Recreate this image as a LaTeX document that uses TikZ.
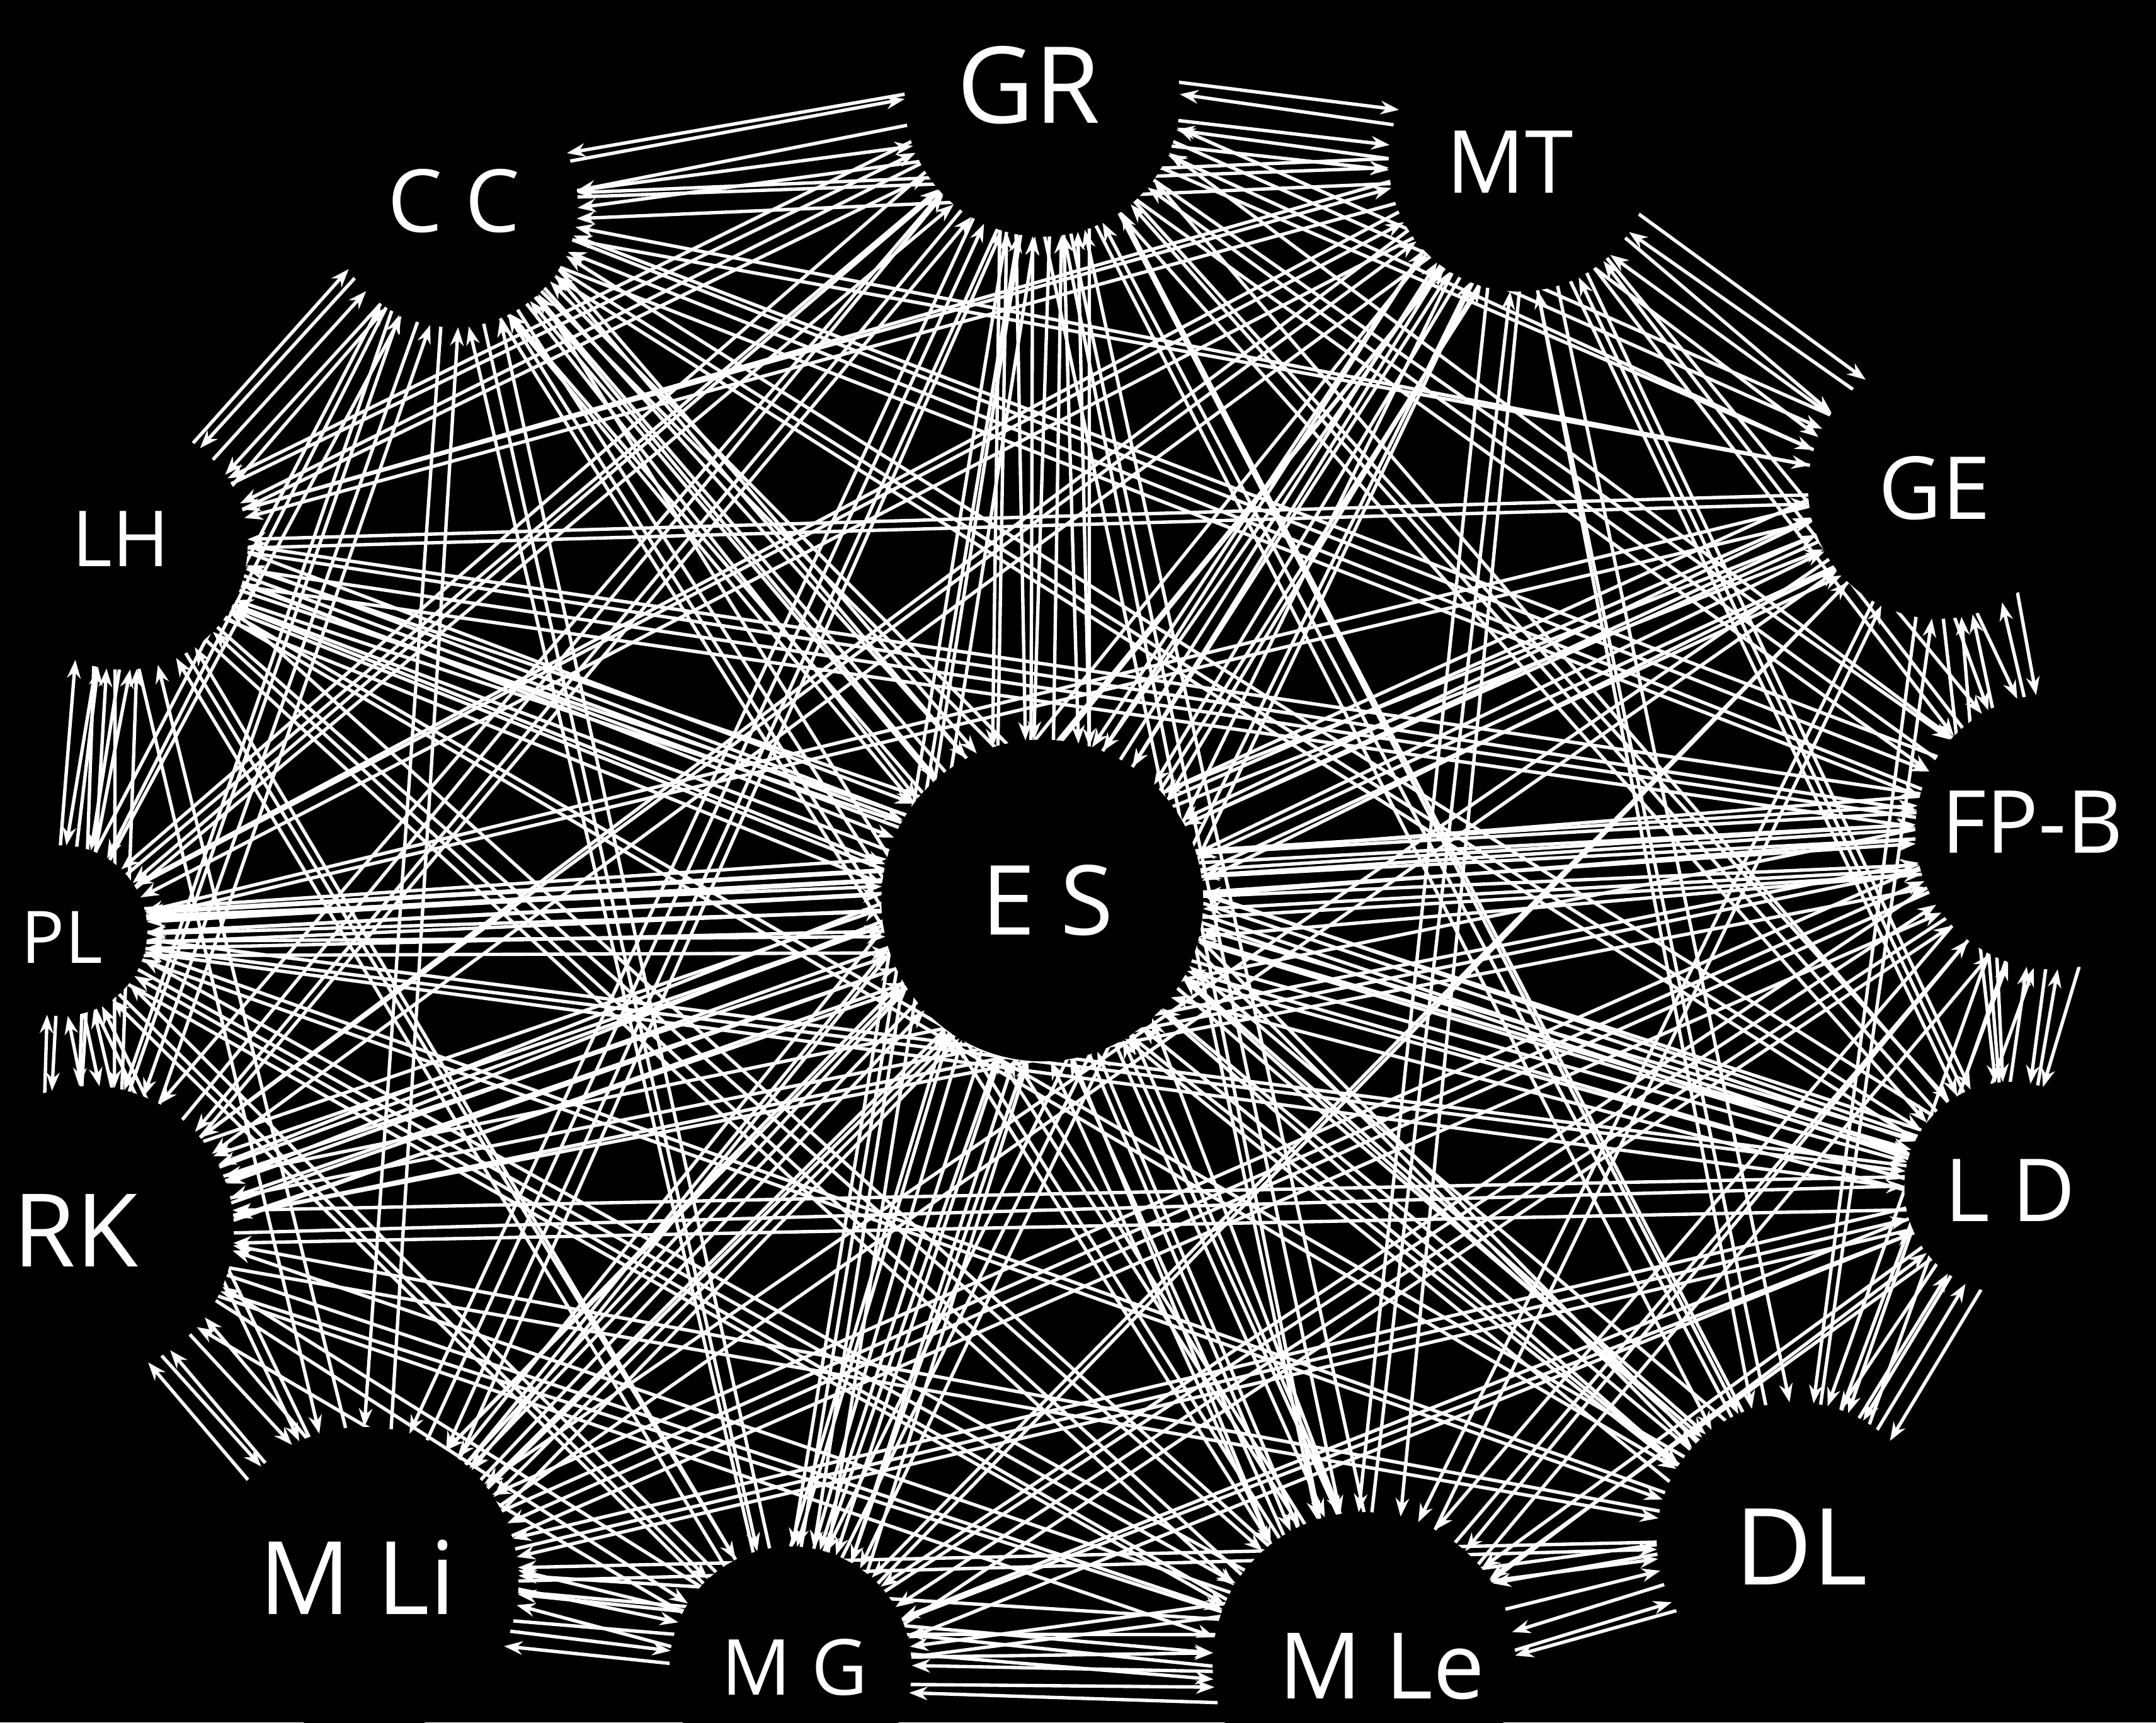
\documentclass[tikz,border=0pt]{standalone}
\usepackage{fontspec}
\setmainfont{Open Sans}
\usetikzlibrary{arrows.meta,calc}
\pgfdeclarelayer{bg}
\pgfdeclarelayer{fg}
\pgfsetlayers{bg,main,fg}
\begin{document}
\begin{tikzpicture}[x=0.01cm,y=-0.01cm,
  hub/.style={circle,inner sep=0pt,outer sep=0pt},
  edge/.style={draw=white,line width=0.7pt,-{Stealth[length=3.8pt,width=2.8pt]}},
  lbl/.style={text=white,inner sep=0pt}]
\useasboundingbox (0,0) rectangle (1568,1253);
\begin{pgfonlayer}{bg}
\fill[black] (0,0) rectangle (1568,1253);
\end{pgfonlayer}
\pgfmathsetseed{4242}
\def\nodelist{1/GR/758/72/100,2/MT/1105/117/95,3/GE/1410/355/95,4/FPB/1493/605/100,5/LD/1462/864/77,6/DL/1305/1120/100,7/MLe/992/1210/110,8/MG/575/1213/88,9/MLi/265/1150/112,10/RK/65/895/105,11/PL/45/677/62,12/LH/90/397/90,13/CC/330/148/90,14/ES/758/655/117}
\foreach \i/\n/\x/\y/\r in \nodelist {
  \node[hub,minimum size=\r*0.02cm] (\n) at (\x,\y) {};
}
\foreach \i/\a/\ax/\ay/\ar in \nodelist {
  \foreach \j/\b/\bx/\by/\br in \nodelist {
    \ifnum\i<\j
      \pgfmathsetmacro\t{atan2(\ay-\by,\bx-\ax)}
      \pgfmathtruncatemacro\nn{(\j==14) ? 9 : (((\j-\i==1) || (\i==1 && \j==13)) ? 5 : 2+mod(\i*5+\j*3,3))}
      \pgfmathsetmacro\sp{(\j==14) ? 4.2 : (((\j-\i==1) || (\i==1 && \j==13)) ? 7 : 6)}
      \foreach \k in {1,...,\nn} {
        \pgfmathsetmacro\da{(\k-(\nn+1)/2)*\sp+4*rand}
        \pgfmathsetmacro\db{(\k-(\nn+1)/2)*\sp+4*rand}
        \ifodd\k
          \draw[edge] (\a.{\t+\da}) -- (\b.{\t+180-\db});
        \else
          \draw[edge] (\b.{\t+180-\db}) -- (\a.{\t+\da});
        \fi
      }
    \fi
  }
}
\begin{pgfonlayer}{fg}
\foreach \i/\n/\x/\y/\r in \nodelist {
  \fill[black] (\x,\y) circle[radius=\r];
}
\node[lbl,font=\fontsize{22}{22}\selectfont] (GRl) at (748,62) {GR};
\node[lbl,font=\fontsize{18}{18}\selectfont] (MTl) at (1098,118) {MT};
\node[lbl,font=\fontsize{18}{18}\selectfont] (GEl) at (1407,355) {GE};
\node[lbl,font=\fontsize{18}{18}\selectfont] (FPBl) at (1478,598) {FP-B};
\node[lbl,font=\fontsize{18}{18}\selectfont] (LDl) at (1462,866) {L D};
\node[lbl,font=\fontsize{22}{22}\selectfont] (DLl) at (1310,1125) {DL};
\node[lbl,font=\fontsize{19}{19}\selectfont] (MLel) at (1005,1212) {M Le};
\node[lbl,font=\fontsize{16}{16}\selectfont] (MGl) at (578,1213) {M G};
\node[lbl,font=\fontsize{21}{21}\selectfont] (MLil) at (260,1147) {M Li};
\node[lbl,font=\fontsize{21}{21}\selectfont] (RKl) at (55,895) {RK};
\node[lbl,font=\fontsize{15}{15}\selectfont] (PLl) at (45,682) {PL};
\node[lbl,font=\fontsize{16}{16}\selectfont] (LHl) at (88,392) {LH};
\node[lbl,font=\fontsize{18}{18}\selectfont] (CCl) at (330,146) {C C};
\node[lbl,font=\fontsize{20}{20}\selectfont] (ESl) at (762,655) {E S};
\end{pgfonlayer}
\end{tikzpicture}
\end{document}
